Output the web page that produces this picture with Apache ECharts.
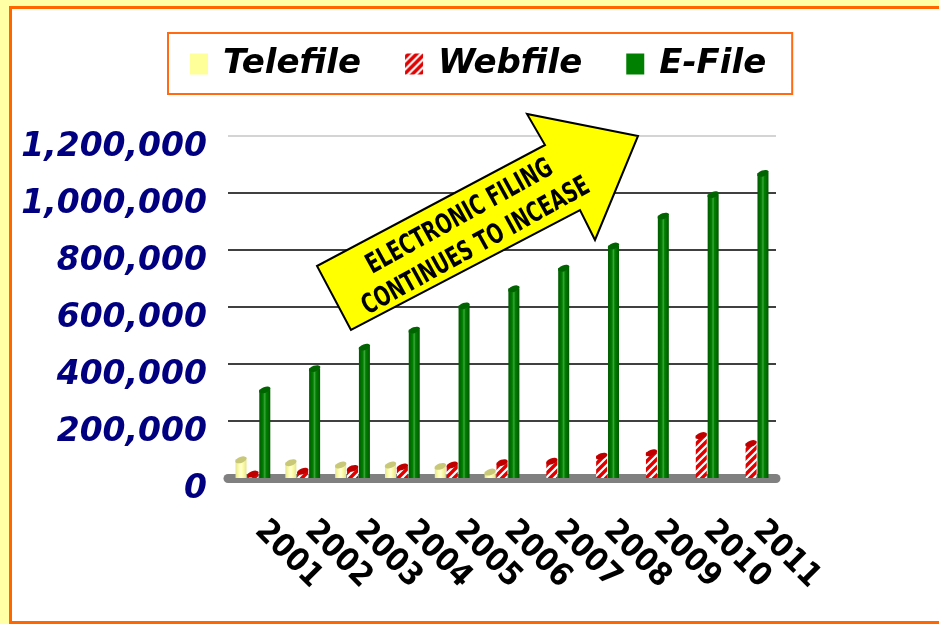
<!DOCTYPE html>
<html lang="en">
<head>
<meta charset="utf-8">
<title>Electronic filing continues to increase</title>
<style>
  html, body { margin: 0; padding: 0; width: 939px; height: 624px; overflow: hidden; background: #ffffa6; }
  #frame { position: absolute; left: 9px; top: 6px; width: 960px; height: 612px; border: 3px solid #ff6600; background: #fff; }
  #main { position: absolute; left: 0; top: 0; width: 939px; height: 624px; }
</style>
</head>
<body>
<div id="frame"></div>
<div id="main"></div>
<script src="https://cdn.jsdelivr.net/npm/echarts@6/dist/echarts.min.js"></script>
<script>
var years = ['2001', '2002', '2003', '2004', '2005', '2006', '2007', '2008', '2009', '2010', '2011'];
var telefile = [65000, 55000, 47000, 47000, 42000, 22000, '-', '-', '-', '-', '-'];
var webfile = [15000, 25000, 35000, 40000, 47000, 55000, 60000, 78000, 90000, 150000, 122000];
var efile = [310000, 385000, 460000, 520000, 605000, 665000, 737000, 815000, 920000, 995000, 1070000];
var yMax = 1200000;
var yStep = 200000;

var narrow = '"Liberation Sans Narrow", "DejaVu Sans Condensed", sans-serif';

// red / white candy stripes for the webfile bars
function stripes() {
  var c = document.createElement('canvas');
  c.width = 8; c.height = 8;
  var g = c.getContext('2d');
  g.fillStyle = '#e00000';
  g.fillRect(0, 0, 8, 8);
  g.strokeStyle = '#ffffff';
  g.lineWidth = 2.2;
  g.beginPath();
  g.moveTo(-4, 4); g.lineTo(4, -4);
  g.moveTo(0, 8); g.lineTo(8, 0);
  g.moveTo(4, 12); g.lineTo(12, 4);
  g.stroke();
  return c;
}
var stripeFill = { image: stripes(), repeat: 'repeat' };

function tube(dark, mid, light) {
  return new echarts.graphic.LinearGradient(0, 0, 1, 0, [
    { offset: 0, color: dark },
    { offset: 0.35, color: mid },
    { offset: 0.5, color: light },
    { offset: 0.62, color: mid },
    { offset: 1, color: dark }
  ]);
}

function commas(v) {
  return String(v).replace(/\B(?=(\d{3})+(?!\d))/g, ',');
}

var barW = 11;
function cap(name, data, fill) {
  return {
    name: name, type: 'pictorialBar', data: data,
    symbol: 'circle', symbolSize: [12, 6], symbolRotate: 20,
    symbolPosition: 'end', symbolOffset: [0, '-50%'],
    barWidth: barW, barGap: '8%', z: 5,
    itemStyle: { color: fill, borderColor: '#fff', borderWidth: 1 },
    silent: true
  };
}

var myChart = echarts.init(document.getElementById('main'));
var option = {
  animation: false,
  grid: { left: 228, right: 163, top: 136, bottom: 146 },
  legend: {
    left: 168, top: 33,
    data: [
      { name: 'Telefile', itemStyle: { color: '#ffff99' } },
      { name: 'Webfile', itemStyle: { color: stripeFill } },
      { name: 'E-File', itemStyle: { color: '#008000' } }
    ],
    icon: 'rect', itemWidth: 18, itemHeight: 21, itemGap: 44,
    padding: [14, 26, 13, 22],
    borderColor: '#ff6a13', borderWidth: 2,
    selectedMode: false,
    textStyle: {
      fontFamily: 'DejaVu Sans', fontWeight: 'bold', fontStyle: 'italic',
      fontSize: 34, color: '#000', padding: [0, 0, 0, 10]
    }
  },
  xAxis: {
    type: 'category', data: years, offset: 4,
    axisLine: { lineStyle: { color: '#808080', width: 9 } },
    axisTick: { show: false },
    axisLabel: {
      interval: 0, rotate: -45, margin: 37, padding: [0, 0, 0, 10],
      fontFamily: narrow, fontWeight: 'bold', fontSize: 32, color: '#000'
    }
  },
  yAxis: {
    type: 'value', min: 0, max: yMax, interval: yStep,
    axisLine: { show: false }, axisTick: { show: false },
    splitLine: {
      lineStyle: {
        width: 2,
        color: ['rgba(0,0,0,0)', '#404040', '#404040', '#404040', '#404040', '#404040', '#d4d4d4']
      }
    },
    axisLabel: {
      margin: 21, verticalAlign: 'top', lineHeight: 22,
      fontFamily: 'DejaVu Sans', fontWeight: 'bold', fontStyle: 'italic',
      fontSize: 33, color: '#000080',
      formatter: commas
    }
  },
  series: [
    { name: 'Telefile', type: 'bar', data: telefile, barWidth: barW, barGap: '8%',
      itemStyle: { color: tube('#e6e690', '#ffffb0', '#ffffd8') } },
    { name: 'Webfile', type: 'bar', data: webfile, barWidth: barW, barGap: '8%',
      itemStyle: { color: stripeFill } },
    { name: 'E-File', type: 'bar', data: efile, barWidth: barW, barGap: '8%',
      itemStyle: { color: tube('#005800', '#008000', '#3aa63a') } },
    cap('capT', telefile, '#c8c878'),
    cap('capW', webfile, '#c00000'),
    cap('capE', efile, '#006400')
  ],
  graphic: [
    {
      type: 'polygon', z: 100,
      shape: { points: [[351, 330], [317, 266], [545, 145], [527, 114], [638, 136], [595, 240], [580, 210]] },
      style: { fill: '#ffff00', stroke: '#000', lineWidth: 2 }
    },
    {
      type: 'text', z: 101, x: 468, y: 232,
      rotation: 29 * Math.PI / 180, scaleY: 1.3,
      style: {
        text: 'ELECTRONIC FILING\nCONTINUES TO INCEASE',
        font: 'bold 21px ' + narrow, fill: '#000',
        align: 'center', verticalAlign: 'middle', lineHeight: 26
      }
    }
  ]
};
myChart.setOption(option);
</script>
</body>
</html>
